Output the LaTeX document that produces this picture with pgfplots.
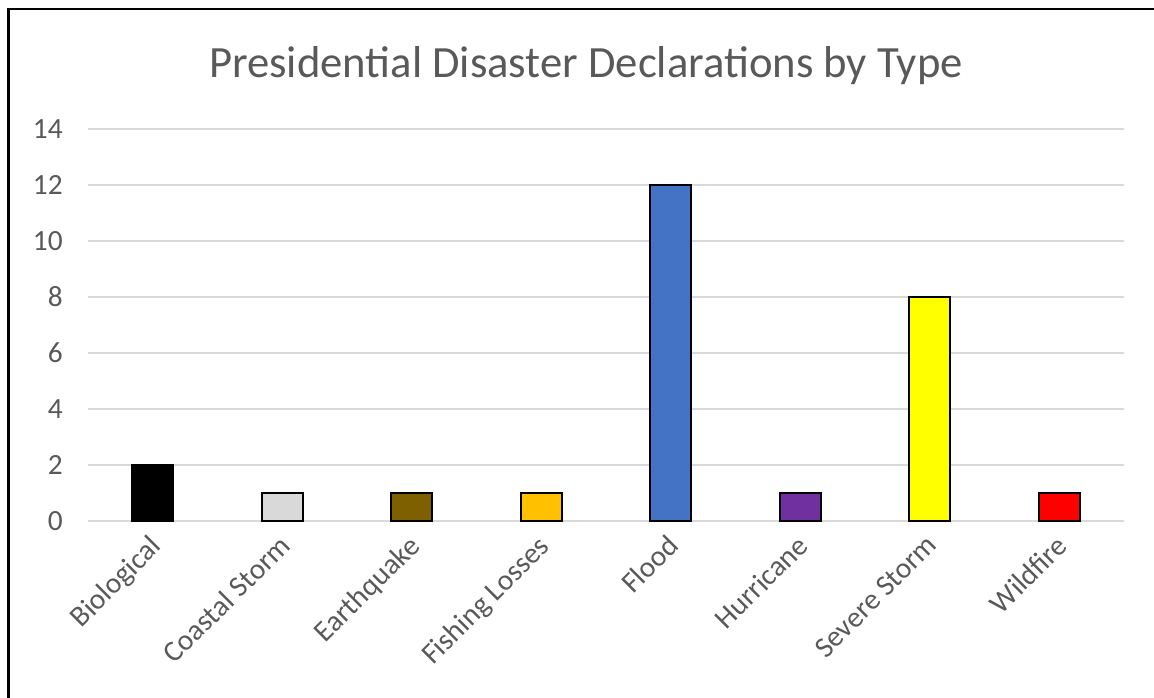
\documentclass[border=0pt]{standalone}
\usepackage{pgfplots}
\pgfplotsset{compat=1.18}
\usepackage{fontspec}
\setmainfont{Carlito}

\definecolor{txt}{HTML}{595959}
\definecolor{gridc}{HTML}{D9D9D9}
\definecolor{cBio}{HTML}{000000}
\definecolor{cCoast}{HTML}{D9D9D9}
\definecolor{cQuake}{HTML}{7F6000}
\definecolor{cFish}{HTML}{FFC000}
\definecolor{cFlood}{HTML}{4472C4}
\definecolor{cHurr}{HTML}{7030A0}
\definecolor{cSevere}{HTML}{FFFF00}
\definecolor{cFire}{HTML}{FF0000}

\begin{document}
\begin{tikzpicture}[x=1pt,y=1pt]
\useasboundingbox (0pt,0pt) rectangle (865.5pt,523.5pt);
% chart frame
\draw[line width=2pt] (6.6pt,-20pt) rectangle (890pt,516.8pt);
\node[txt, font=\fontsize{33.5}{40}\selectfont, anchor=base] at (439.5pt,465pt) {Presidential Disaster Declarations by Type};
\begin{axis}[
  at={(66pt,132.75pt)}, anchor=south west,
  scale only axis, width=777pt, height=294pt,
  xmin=-0.5, xmax=7.5, ymin=0, ymax=14,
  ytick={0,2,...,14},
  xtick={0,...,7},
  xticklabels={Biological,Coastal Storm,Earthquake,Fishing Losses,Flood,Hurricane,Severe Storm,Wildfire},
  axis line style={draw=none},
  ymajorgrids, grid style={draw=gridc, line width=1.1pt},
  major tick length=0pt,
  clip=false,
  /pgf/number format/assume math mode=true,
  tick label style={text=txt, font=\fontsize{22}{26}\selectfont},
  yticklabel style={anchor=east, inner sep=0pt, xshift=-18.75pt},
  % shifts act in the rotated frame of the label
  xticklabel style={rotate=45, anchor=north east, inner sep=0pt, xshift=-9pt, yshift=-3.9pt},
  ybar, bar width=30.75pt,
  every axis plot/.append style={draw=black, line width=1.5pt, bar shift=0pt},
]
\addplot[fill=cBio]    coordinates {(0,2)};
\addplot[fill=cCoast]  coordinates {(1,1)};
\addplot[fill=cQuake]  coordinates {(2,1)};
\addplot[fill=cFish]   coordinates {(3,1)};
\addplot[fill=cFlood]  coordinates {(4,12)};
\addplot[fill=cHurr]   coordinates {(5,1)};
\addplot[fill=cSevere] coordinates {(6,8)};
\addplot[fill=cFire]   coordinates {(7,1)};
\end{axis}
\end{tikzpicture}
\end{document}
